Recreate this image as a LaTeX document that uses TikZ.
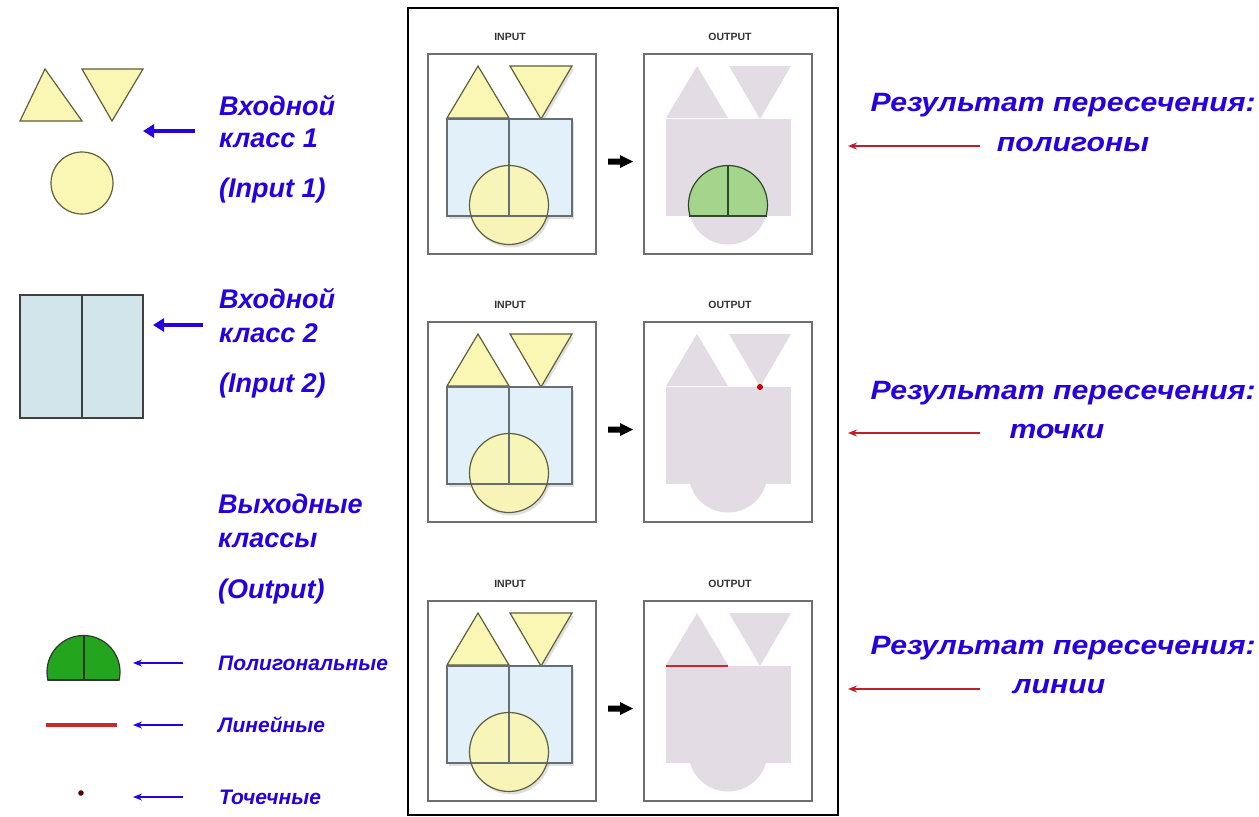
\documentclass[tikz,border=0pt]{standalone}
\usepackage{fontspec}
\setmainfont{Liberation Sans}
\usetikzlibrary{arrows.meta}
\definecolor{txtblue}{RGB}{38,0,222}
\definecolor{arrred}{RGB}{190,30,40}
\definecolor{ylfill}{RGB}{250,246,180}
\definecolor{ylline}{RGB}{95,95,60}
\definecolor{rectfill}{RGB}{226,241,249}
\definecolor{rectline}{RGB}{100,110,115}
\definecolor{mauve}{RGB}{228,220,228}
\definecolor{grfill}{RGB}{165,212,140}
\definecolor{grline}{RGB}{45,75,40}
\definecolor{boxgray}{RGB}{110,110,110}
\definecolor{legrect}{RGB}{210,229,235}
\definecolor{leggreen}{RGB}{35,165,30}
\definecolor{legred}{RGB}{205,40,40}
\newcommand\wide[1]{\scalebox{1.14}[1]{#1}}
\newcommand\mypanel[2]{%
\begin{scope}[yshift=-#1pt]
  \node[lab] (inlab#2) at (510,37) {INPUT};
  \node[lab] (outlab#2) at (730,37) {OUTPUT};
  \node[pbox] (inbox#2) at (512,154) {};
  \node[pbox] (outbox#2) at (728,154) {};
  % shadows
  \begin{scope}[shift={(2,3)}]
    \fill[black,opacity=.12] (447,118) -- (478,66) -- (509,118) -- cycle;
    \fill[black,opacity=.12] (510,66) -- (572,66) -- (541,119) -- cycle;
    \fill[black,opacity=.12] (447,119) rectangle (572,216);
    \fill[black,opacity=.12] (509,205) circle[radius=39.5];
  \end{scope}
  % input shapes
  \filldraw[fill=ylfill,draw=ylline,shp] (447,118) -- (478,66) -- (509,118) -- cycle;
  \filldraw[fill=ylfill,draw=ylline,shp] (510,66) -- (572,66) -- (541,119) -- cycle;
  \fill[rectfill] (447,119) rectangle (572,216);
  \fill[ylfill,opacity=.93] (509,205) circle[radius=39.5];
  \draw[rectline,shp] (447,119) rectangle (572,216) (509,119) -- (509,216);
  \draw[ylline,shp] (509,205) circle[radius=39.5];
  % output union
  \fill[mauve] (666,118) -- (697,66) -- (728,118) -- cycle;
  \fill[mauve] (729,66) -- (791,66) -- (760,119) -- cycle;
  \fill[mauve] (666,118.5) rectangle (791,216);
  \fill[mauve] (728,205) circle[radius=39.5];
  % arrow
  \fill[black] (608,158.5) -- (620,158.5) -- (620,155) -- (633,161.5) -- (620,168) -- (620,164.5) -- (608,164.5) -- cycle;
\end{scope}}
\begin{document}
\begin{tikzpicture}[x=1pt,y=-1pt,
  shp/.style={line width=1.2pt},
  lab/.style={font=\fontsize{10.5}{12}\selectfont\bfseries, text=black!80, inner sep=0},
  pbox/.style={draw=boxgray, line width=1.3pt, minimum width=168pt, minimum height=200pt, inner sep=0},
  bigtxt/.style={font=\fontsize{27}{30}\selectfont\bfseries\itshape, text=txtblue, inner sep=0},
  rtxt/.style={font=\fontsize{26.5}{30}\selectfont\bfseries\itshape, text=txtblue, inner sep=0},
  smalltxt/.style={font=\fontsize{21}{24}\selectfont\bfseries\itshape, text=txtblue, inner sep=0},
  thickblue/.style={txtblue, line width=4pt, -{Triangle[length=11pt,width=13pt]}},
  thinblue/.style={txtblue, line width=1.8pt, -{Stealth[length=9pt,width=7pt]}},
  thinred/.style={arrred, line width=2.2pt, -{Stealth[length=9pt,width=7pt]}}]
\useasboundingbox (0,0) rectangle (1259,817);
\fill[white] (0,0) rectangle (1259,817);
% main frame
\node[draw=black, line width=2pt, minimum width=430pt, minimum height=807pt, inner sep=0] (frame) at (623,411.5) {};
\mypanel{0}{1}
\mypanel{268}{2}
\mypanel{547}{3}
% panel 1 green result
\begin{scope}
  \clip (680,150) rectangle (780,216);
  \filldraw[fill=grfill,draw=grline,shp] (728,205) circle[radius=39.5];
\end{scope}
\draw[grline,shp] (688.7,216) -- (767.3,216) (728,165.5) -- (728,216);
% panel 2 point
\filldraw[fill=red!85!black,draw=red!60!black,line width=.6pt] (760,387) circle[radius=2.6];
% panel 3 line
\draw[legred,line width=2.2pt] (666,666) -- (728,666);

% ---------- left legend ----------
\filldraw[fill=ylfill,draw=ylline,shp] (20,121) -- (45,69) -- (82,121) -- cycle;
\filldraw[fill=ylfill,draw=ylline,shp] (82,69) -- (143,69) -- (112,121) -- cycle;
\filldraw[fill=ylfill,draw=ylline,shp] (82,183) circle[radius=31];
\filldraw[fill=legrect,draw=black!75,shp] (20,295) rectangle (143,418);
\draw[black!75,shp] (82,295) -- (82,418);

\node[bigtxt,anchor=west] (t1a) at (219,106) {Входной};
\node[bigtxt,anchor=west] (t1b) at (219,138) {класс 1};
\node[bigtxt,anchor=west] (t1c) at (219,191) {(Input 1)};
\node[bigtxt,anchor=west] (t2a) at (219,299) {Входной};
\node[bigtxt,anchor=west] (t2b) at (219,333) {класс 2};
\node[bigtxt,anchor=west] (t2c) at (219,386) {(Input 2)};
\node[bigtxt,anchor=west] (t3a) at (218,504) {Выходные};
\node[bigtxt,anchor=west] (t3b) at (218,540) {классы};
\node[bigtxt,anchor=west] (t3c) at (218,592) {(Output)};
\coordinate (a1s) at (195,131); \coordinate (a1e) at (143,131);
\coordinate (a2s) at (203,325); \coordinate (a2e) at (153,325);
\draw[thickblue] (a1s) -- (a1e);
\draw[thickblue] (a2s) -- (a2e);

% output legend
\begin{scope}
  \clip (40,630) rectangle (130,680);
  \filldraw[fill=leggreen,draw=black!80,shp] (83.5,672) circle[radius=36.5];
\end{scope}
\draw[black!80,shp] (47.9,680) -- (119.1,680) (84,635.5) -- (84,680);
\draw[legred,line width=4pt] (46,725) -- (117,725);
\fill[black!40!red!60!black] (81,793) circle[radius=2.8];

\node[smalltxt,anchor=west] (l1) at (218,663) {Полигональные};
\node[smalltxt,anchor=west] (l2) at (218,725) {Линейные};
\node[smalltxt,anchor=west] (l3) at (219,797) {Точечные};
\coordinate (b1s) at (183,663); \coordinate (b1e) at (133,663);
\coordinate (b2s) at (183,725); \coordinate (b2e) at (133,725);
\coordinate (b3s) at (183,797); \coordinate (b3e) at (133,797);
\draw[thinblue] (b1s) -- (b1e);
\draw[thinblue] (b2s) -- (b2e);
\draw[thinblue] (b3s) -- (b3e);

% ---------- right labels ----------
\node[rtxt,anchor=east] (r1a) at (1256,105) {\wide{Результат пересечения:}};
\node[rtxt] (r1b) at (1073,144) {\wide{полигоны}};
\node[rtxt,anchor=east] (r2a) at (1256,393) {\wide{Результат пересечения:}};
\node[rtxt] (r2b) at (1057,432) {\wide{точки}};
\node[rtxt,anchor=east] (r3a) at (1256,648) {\wide{Результат пересечения:}};
\node[rtxt] (r3b) at (1059,687) {\wide{линии}};
\coordinate (c1s) at (980,146); \coordinate (c1e) at (848,146);
\coordinate (c2s) at (980,433); \coordinate (c2e) at (848,433);
\coordinate (c3s) at (980,689); \coordinate (c3e) at (848,689);
\draw[thinred] (c1s) -- (c1e);
\draw[thinred] (c2s) -- (c2e);
\draw[thinred] (c3s) -- (c3e);
\end{tikzpicture}
\end{document}
